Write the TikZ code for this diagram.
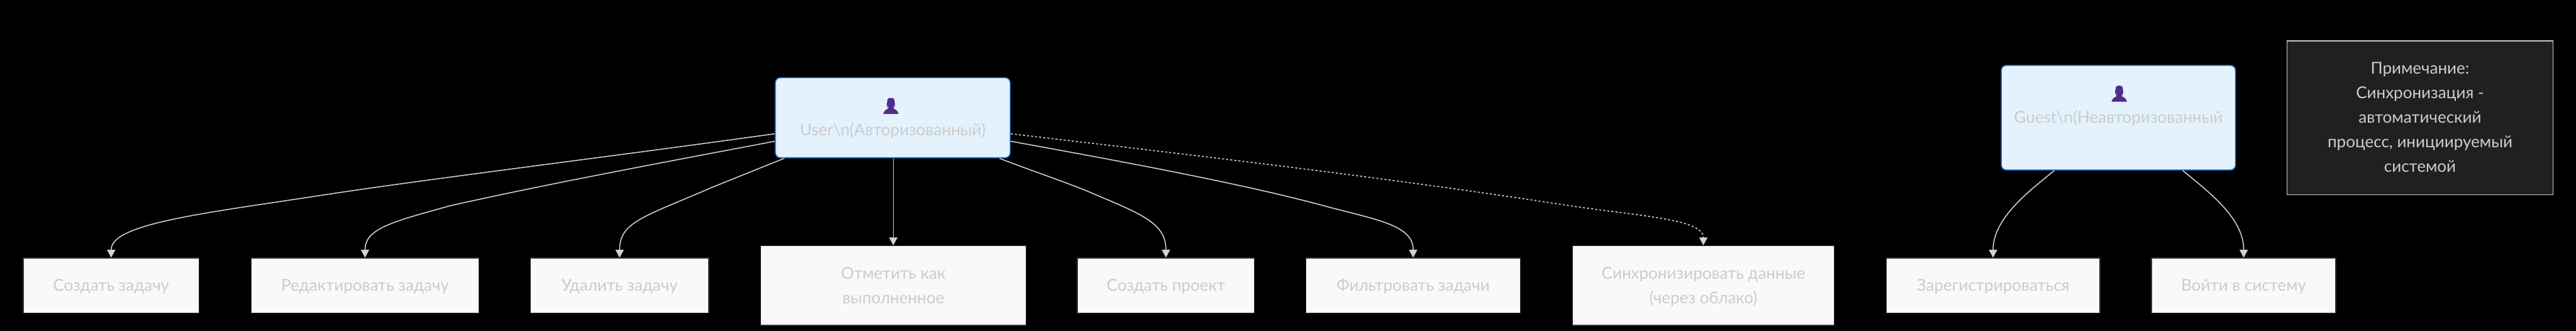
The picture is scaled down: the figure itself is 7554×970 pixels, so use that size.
\documentclass[tikz,border=0pt]{standalone}
\usepackage{fontspec}
\setmainfont{Lato}
\newfontfamily\emojifont{Noto Emoji}
\usetikzlibrary{arrows.meta}
\definecolor{lnc}{HTML}{CCCCCC}
\definecolor{tipc}{HTML}{D3D3D3}
\definecolor{actfill}{HTML}{E3F2FD}
\definecolor{actdraw}{HTML}{0D68CC}
\definecolor{ucfill}{HTML}{F9F9F9}
\definecolor{ucdraw}{HTML}{333333}
\definecolor{notefill}{HTML}{1F2020}
\definecolor{iconc}{HTML}{4F2D8A}
\newcommand{\lst}{\rule[-20pt]{0pt}{72pt}}
\newcommand{\bust}{{\emojifont\color{iconc}\fontsize{38}{72}\selectfont\char"1F464}}
\newcommand{\silhouette}[1]{%
  \fill[iconc,shift={(#1)}] (0,0) .. controls (7,0) and (10,2) .. (10.5,8) -- (10.5,13)
    .. controls (12.5,13) and (12.5,20) .. (10.5,20)
    .. controls (10,24) and (8,27) .. (6,29)
    .. controls (6,31) and (7,31) .. (9,32)
    .. controls (16,34) and (21,40) .. (22.5,47) -- (-22.5,47)
    .. controls (-21,40) and (-16,34) .. (-9,32)
    .. controls (-7,31) and (-6,31) .. (-6,29)
    .. controls (-8,27) and (-10,24) .. (-10.5,20)
    .. controls (-12.5,20) and (-12.5,13) .. (-10.5,13)
    -- (-10.5,8) .. controls (-10,2) and (-7,0) .. (0,0) -- cycle;}
\tikzset{
  txt/.style={font=\fontsize{48}{72}\selectfont, align=center, text=lnc, inner sep=0pt, line width=3pt},
  actor/.style={txt, draw=actdraw, fill=actfill, rounded corners=15pt},
  usecase/.style={txt, draw=ucdraw, fill=ucfill},
  notebox/.style={txt, draw=lnc, fill=notefill},
  link/.style={draw=lnc, line width=3pt, -{Triangle[length=23pt,width=24pt,fill=tipc,color=tipc]}},
  dottedlink/.style={link, dash pattern=on 6pt off 6pt}
}
\begin{document}
\begin{tikzpicture}[x=1pt,y=-1pt]
\useasboundingbox[fill=black] (0,0) rectangle (7554,970);
\node[actor, minimum width=689pt, minimum height=235pt] (user) at (2618,345) {\lst\bust\hspace*{11pt}\\\lst User\textbackslash n(Авторизованный)};
\node[actor, minimum width=687pt, minimum height=307pt] (guest) at (6212,345) {\lst\hspace*{5pt}\bust\\\lst Guest\textbackslash n(Неавторизованный\\\lst};
\silhouette{2612.5,287}
\silhouette{6214.5,251}
\node[notebox, minimum width=780pt, minimum height=451pt] (note) at (7096.5,345) {\lst Примечание:\\\lst Синхронизация -\\\lst автоматический\\\lst процесс, инициируемый\\\lst системой};
\node[usecase, minimum width=515pt, minimum height=161pt] (a) at (326,837) {\lst Создать задачу};
\node[usecase, minimum width=668pt, minimum height=161pt] (b) at (1070.5,837) {\lst Редактировать задачу};
\node[usecase, minimum width=523pt, minimum height=161pt] (c) at (1817,837) {\lst Удалить задачу};
\node[usecase, minimum width=778pt, minimum height=233pt] (d) at (2619.5,837) {\lst Отметить как\\\lst выполненное};
\node[usecase, minimum width=519pt, minimum height=161pt] (e) at (3419,837) {\lst Создать проект};
\node[usecase, minimum width=629pt, minimum height=161pt] (f) at (4144,837) {\lst Фильтровать задачи};
\node[usecase, minimum width=767pt, minimum height=233pt] (g) at (4995,837) {\lst Синхронизировать данные\\\lst (через облако)};
\node[usecase, minimum width=626pt, minimum height=161pt] (h) at (5844.5,837) {\lst Зарегистрироваться};
\node[usecase, minimum width=540pt, minimum height=161pt] (i) at (6579.5,837) {\lst Войти в систему};

\draw[link] (user.west |- 0,392) .. controls (1800,458) and (1250,525) .. (938,573) .. controls (600,625) and (326,655) .. (326,732) -- (a.north);
\draw[link] (user.west |- 0,414) .. controls (1950,475) and (1600,540) .. (1320,603) .. controls (1150,650) and (1070.5,670) .. (1070.5,732) -- (b.north);
\draw[link] (2300,464) .. controls (2230,492) and (2160,520) .. (2086,550) .. controls (1890,635) and (1817,650) .. (1817,732) -- (c.north);
\draw[link] (user.south -| d.north) -- (d.north);
\draw[link] (2931,464) .. controls (3010,495) and (3100,525) .. (3181,557) .. controls (3340,625) and (3419,650) .. (3419,732) -- (e.north);
\draw[link] (user.east |- 0,414) .. controls (3300,475) and (3650,540) .. (3882,603) .. controls (4040,645) and (4144,660) .. (4144,732) -- (f.north);
\draw[dottedlink] (user.east |- 0,392) .. controls (3300,432) and (4000,510) .. (4584,600) .. controls (4790,632) and (4995,640) .. (4995,696) -- (g.north);
\draw[link] (6024,500) .. controls (5950,560) and (5844.5,640) .. (5844.5,732) -- (h.north);
\draw[link] (6401,500) .. controls (6480,565) and (6579.5,640) .. (6579.5,732) -- (i.north);
\end{tikzpicture}
\end{document}
